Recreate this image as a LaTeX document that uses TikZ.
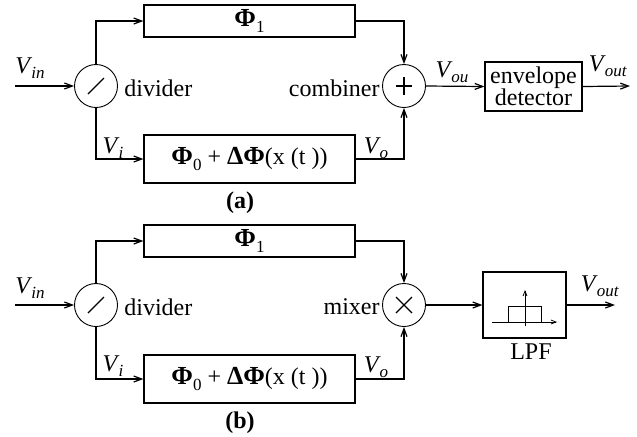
\documentclass[tikz,border=0pt]{standalone}
\usepackage{fontspec}
\setmainfont{Liberation Serif}
\usetikzlibrary{arrows.meta,calc}
% signal name with italic subscript
\newcommand{\sig}[2]{\textit{#1}\kern-0.5pt\raisebox{-0.45ex}{\fontsize{8.5}{9}\selectfont\textit{#2}}}
\newcommand{\subn}[1]{\raisebox{-0.55ex}{\fontsize{8.5}{9}\selectfont #1}}
\newcommand{\Ph}{{\fontsize{13}{13}\selectfont\bfseries Φ}}
\newcommand{\Dl}{{\fontsize{13}{13}\selectfont\bfseries Δ}}
\tikzset{
  wire/.style={line width=0.6pt},
  arr/.style={wire,-{Straight Barb[length=4pt,width=3pt]}},
  blk/.style={draw,line width=0.6pt,inner sep=0pt,align=center},
  junc/.style={draw,circle,line width=0.45pt,minimum size=21.5pt,inner sep=0pt},
  lbl/.style={inner sep=0pt,font=\fontsize{12}{13}\selectfont},
  sym/.style={line width=0.6pt}
}
\begin{document}
\begin{tikzpicture}[x=0.5pt,y=-0.5pt,font=\fontsize{12}{13}\selectfont]
\useasboundingbox (0,0) rectangle (637,436);

% ---------- (a) envelope detection ----------
\node[junc] (divA) at (96,86) {};
\draw[sym] ($(divA)+(-8,8)$) -- ($(divA)+(8,-8)$);
\node[blk,minimum width=105.5pt,minimum height=16pt] (p1A) at (249.5,21) {\Ph\subn{1}};
\node[blk,minimum width=105.5pt,minimum height=24pt] (p0A) at (249.5,159) {\Ph\subn{0} + \Dl\Ph(x (t ))};
\node[junc] (combA) at (404,86) {};
\draw[sym] ($(combA)+(-8,0)$) -- ($(combA)+(8,0)$) ($(combA)+(0,-9)$) -- ($(combA)+(0,9)$);
\node[blk,minimum width=48.5pt,minimum height=24.5pt,font=\fontsize{12}{11}\selectfont] (envA) at (533.5,86.5) {envelope\\detector};
\coordinate (inA) at (15,86);
\coordinate (outA) at (630,86);

\draw[arr] (inA) -- (divA);
\draw[arr] (divA.north) |- (p1A.west);
\draw[arr] (divA.south) |- (p0A.west);
\draw[arr] (p1A.east) -| (combA.north);
\draw[arr] (p0A.east) -| (combA.south);
\draw[arr] (combA.east) -- (envA.west);
\draw[arr] (envA.east) -- (outA);

\node[lbl] (vinA) at (30,68) {\sig{V}{in}};
\node[lbl] (viA) at (113,148) {\sig{V}{i}};
\node[lbl] (voA) at (376,148) {\sig{V}{o}};
\node[lbl] (vouA) at (452,72) {\sig{V}{ou}};
\node[lbl] (voutA) at (608,66) {\sig{V}{out}};
\node[lbl,anchor=west] (dtA) at (124,88) {divider};
\node[lbl,anchor=east] (ctA) at (380,88) {combiner};
\node[lbl] (capA) at (240,203) {\textbf{(a)}};

% ---------- (b) mixing with low-pass filter ----------
\node[junc] (divB) at (96,305) {};
\draw[sym] ($(divB)+(-8,8)$) -- ($(divB)+(8,-8)$);
\node[blk,minimum width=105.5pt,minimum height=16pt] (p1B) at (249.5,241) {\Ph\subn{1}};
\node[blk,minimum width=105.5pt,minimum height=24pt] (p0B) at (249.5,379) {\Ph\subn{0} + \Dl\Ph(x (t ))};
\node[junc] (mixB) at (404,305) {};
\draw[sym] ($(mixB)+(-8,-8)$) -- ($(mixB)+(8,8)$) ($(mixB)+(-8,8)$) -- ($(mixB)+(8,-8)$);
\node[blk,minimum width=41.5pt,minimum height=33pt] (lpfB) at (524.5,305) {};
\draw[arr,line width=0.4pt,-{Straight Barb[length=2.5pt,width=2pt]}] (492,322) -- (557,322);
\draw[arr,line width=0.4pt,-{Straight Barb[length=2.5pt,width=2pt]}] (525,326) -- (525,290);
\draw[sym,line width=0.45pt] (508,322) -- (508,306) -- (541,306) -- (541,322);
\coordinate (inB) at (15,305);
\coordinate (outB) at (615,305);

\draw[arr] (inB) -- (divB);
\draw[arr] (divB.north) |- (p1B.west);
\draw[arr] (divB.south) |- (p0B.west);
\draw[arr] (p1B.east) -| (mixB.north);
\draw[arr] (p0B.east) -| (mixB.south);
\draw[arr] (mixB.east) -- (lpfB.west);
\draw[arr] (lpfB.east) -- (outB);

\node[lbl] (vinB) at (30,288) {\sig{V}{in}};
\node[lbl] (viB) at (113,366) {\sig{V}{i}};
\node[lbl] (voB) at (376,367) {\sig{V}{o}};
\node[lbl] (voutB) at (600,286) {\sig{V}{out}};
\node[lbl,anchor=west] (dtB) at (124,307) {divider};
\node[lbl,anchor=east] (mtB) at (380,307) {mixer};
\node[lbl] (lpfT) at (531,352) {LPF};
\node[lbl] (capB) at (240,423) {\textbf{(b)}};
\end{tikzpicture}
\end{document}
